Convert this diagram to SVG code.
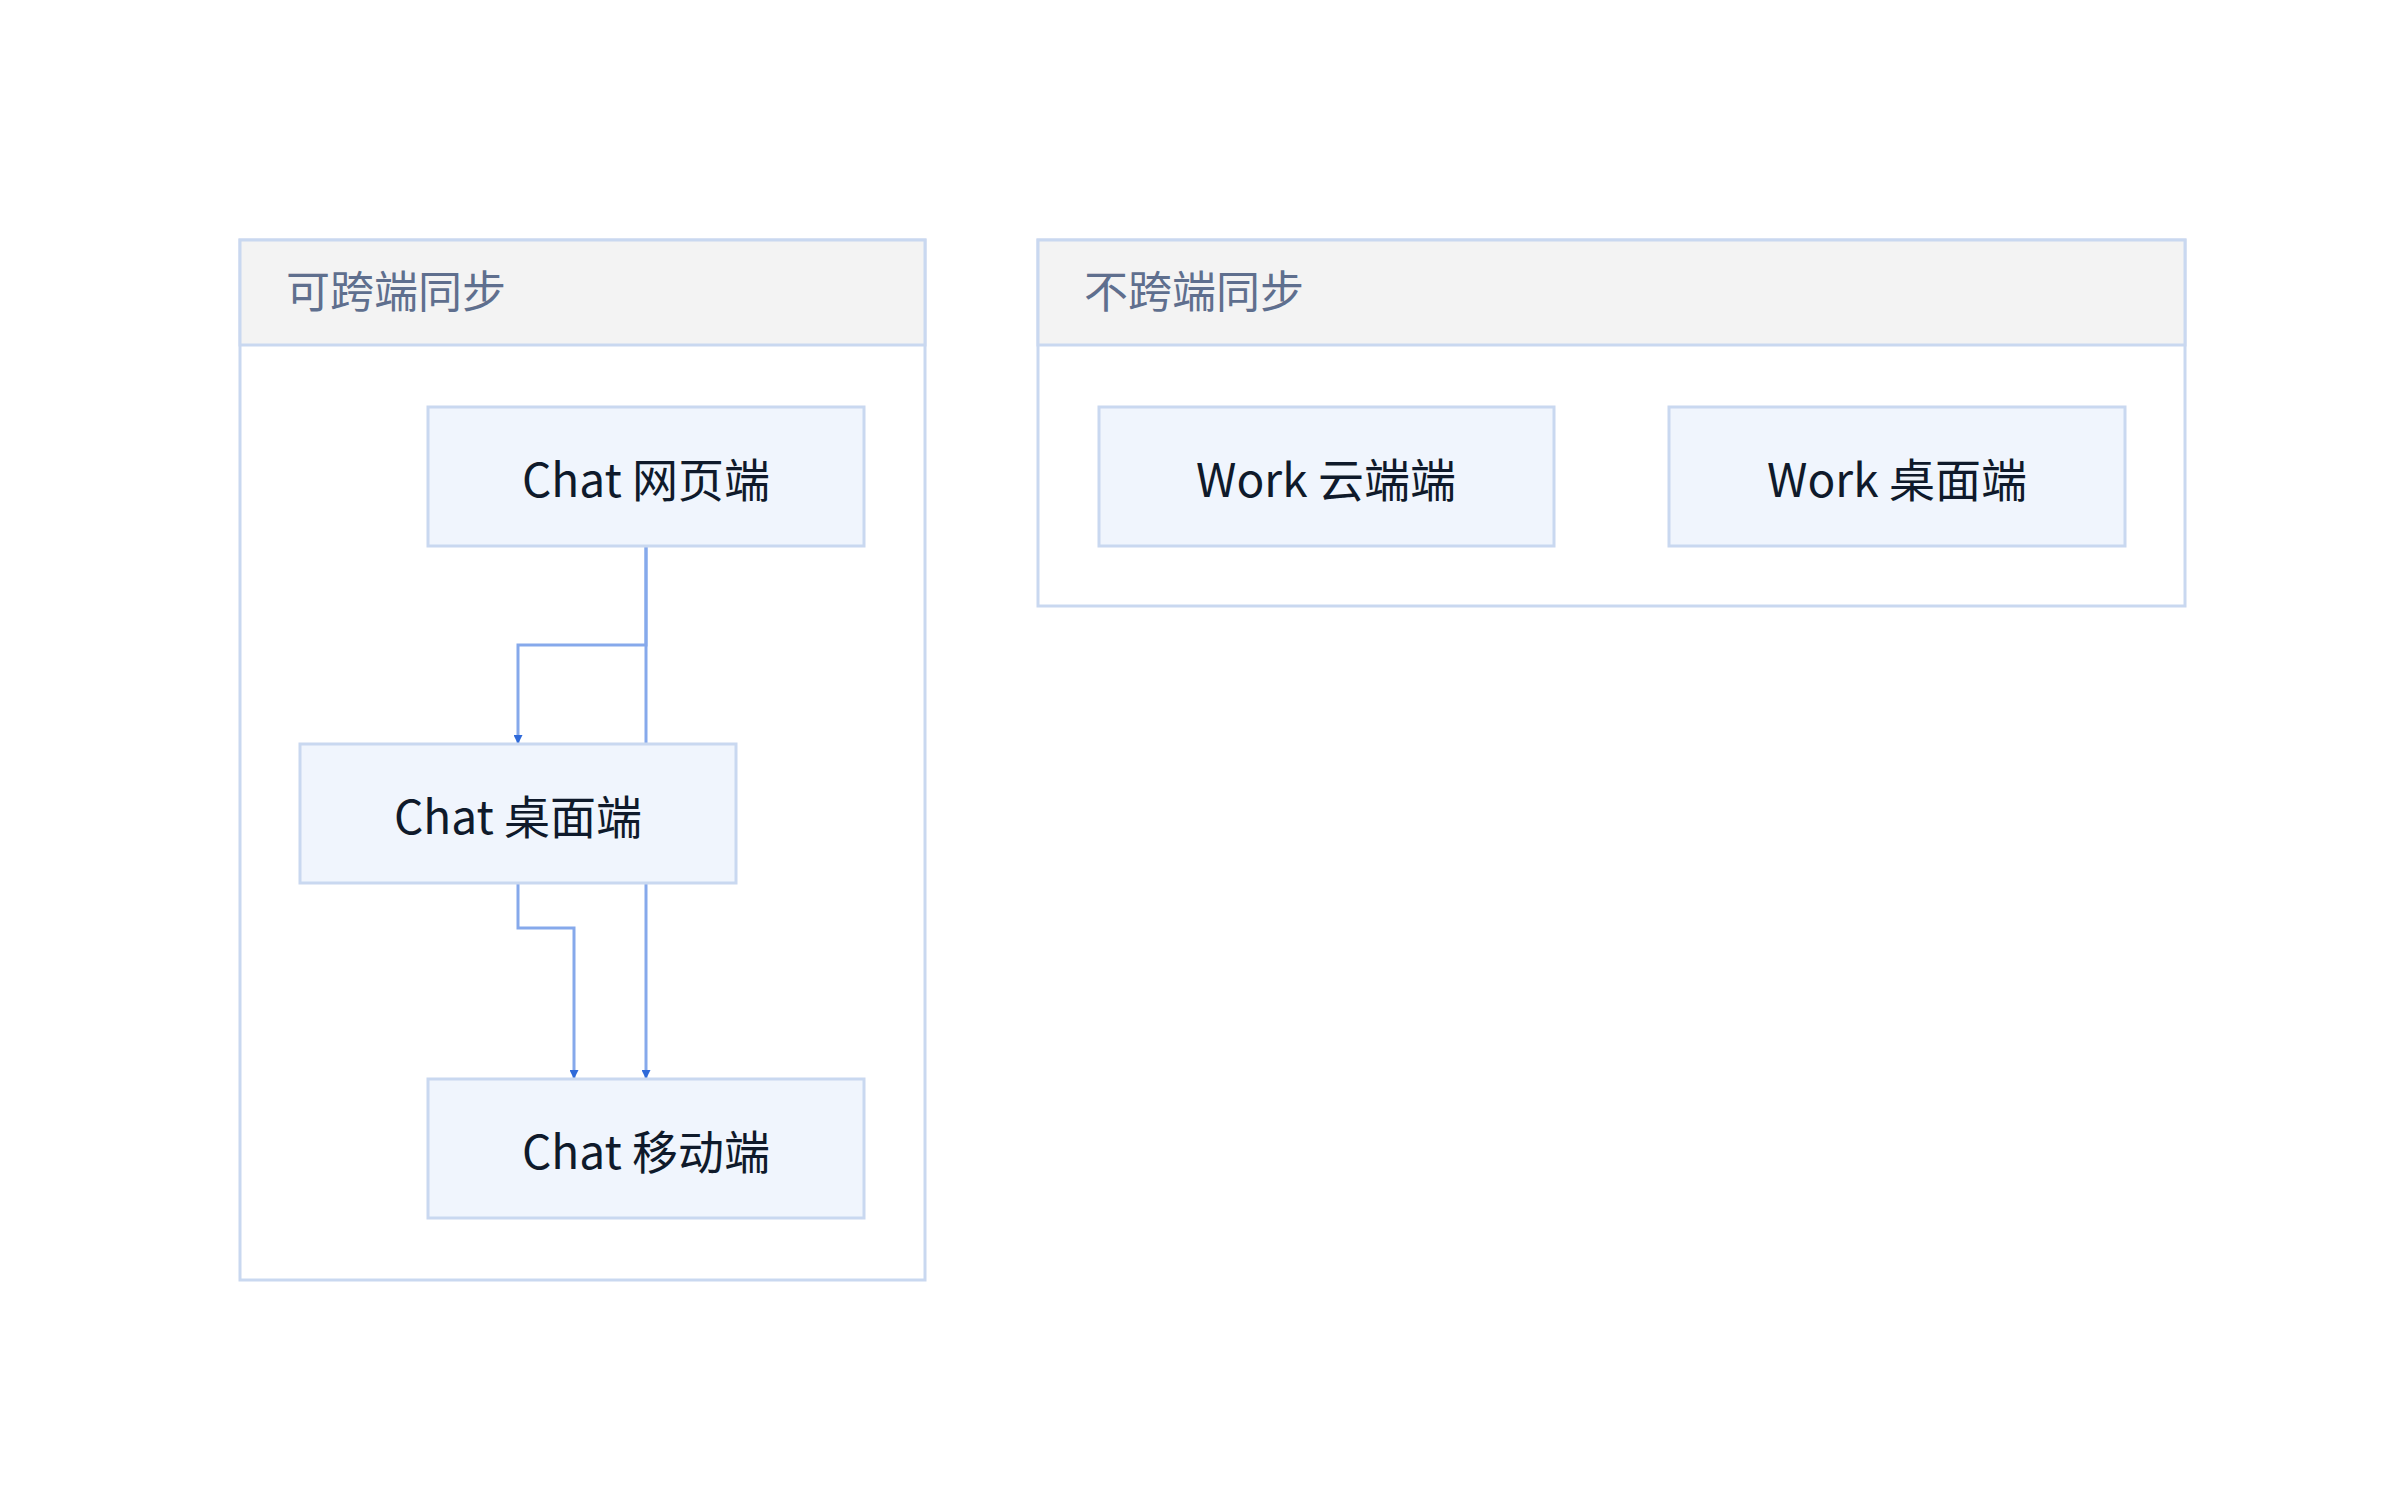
<svg xmlns="http://www.w3.org/2000/svg" width="2400" height="1504" viewBox="0 0 2400 1504">
<defs>
<marker id="arr" viewBox="0 0 10 10" refX="10" refY="5" markerWidth="9" markerHeight="9" markerUnits="userSpaceOnUse" orient="auto"><path d="M0,0 L10,5 L0,10 z" fill="#2f6ad9"/></marker>
<style>
.cl{fill:#fff;stroke:#c9d8f0;stroke-width:3}
.hd{fill:#f3f3f3;stroke:#c9d8f0;stroke-width:3}
.ht{font-family:"Noto Sans CJK SC","Noto Sans",sans-serif;font-size:44px;fill:#5f6f8e}
.nd{fill:#f0f5fd;stroke:#c9d8f0;stroke-width:3}
.nt{font-family:"Noto Sans CJK SC","Noto Sans",sans-serif;font-size:46px;fill:#0f1a2b;text-anchor:middle;dominant-baseline:central}
.e{fill:none;stroke:#86a9eb;stroke-width:3;marker-end:url(#arr)}
</style>
</defs>
<rect width="2400" height="1504" fill="#fff"/>
<g id="cluster-sync">
<rect class="cl" x="240" y="240" width="685" height="1040"/>
<rect class="hd" x="240" y="240" width="685" height="105"/>
<text class="ht" x="286" y="308">可跨端同步</text>
</g>
<g id="cluster-nosync">
<rect class="cl" x="1038" y="240" width="1147" height="366"/>
<rect class="hd" x="1038" y="240" width="1147" height="105"/>
<text class="ht" x="1084" y="308">不跨端同步</text>
</g>
<g id="connectors">
<path class="e" d="M646,546 V1079"/>
<path class="e" d="M646,546 V645 H518 V744"/>
<path class="e" d="M518,883 V928 H574 V1079"/>
</g>
<g id="chat-web"><rect class="nd" x="428" y="407" width="436" height="139"/><text class="nt" x="646" y="477">Chat 网页端</text></g>
<g id="chat-desktop"><rect class="nd" x="300" y="744" width="436" height="139"/><text class="nt" x="518" y="814">Chat 桌面端</text></g>
<g id="chat-mobile"><rect class="nd" x="428" y="1079" width="436" height="139"/><text class="nt" x="646" y="1149">Chat 移动端</text></g>
<g id="work-cloud"><rect class="nd" x="1099" y="407" width="455" height="139"/><text class="nt" x="1326" y="477">Work 云端端</text></g>
<g id="work-desktop"><rect class="nd" x="1669" y="407" width="456" height="139"/><text class="nt" x="1897" y="477">Work 桌面端</text></g>
</svg>
